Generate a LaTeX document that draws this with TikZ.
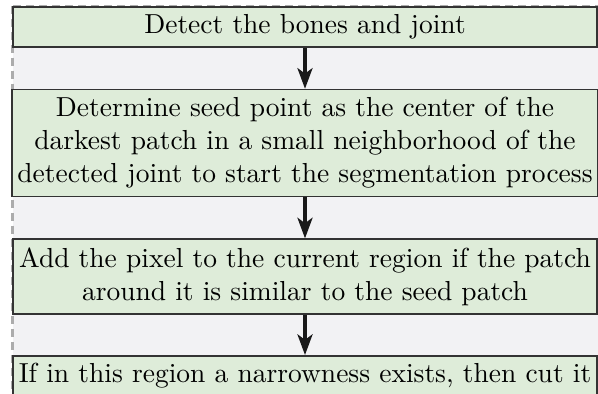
\documentclass[tikz,border=0pt]{standalone}
\usepackage{tikz}
\usetikzlibrary{arrows.meta, positioning}
\usepackage{xcolor}
\definecolor{cajaverde}{RGB}{222,236,217}
\definecolor{fondogris}{RGB}{242,242,244}

\begin{document}
\begin{tikzpicture}[x=0.3636pt, y=-0.3636pt,
	paso/.style={draw=black!80, line width=0.6pt, fill=cajaverde,
		minimum width=212.4pt, inner sep=2pt, align=center},
	flecha/.style={-{Stealth[length=7.5pt, width=5.5pt, inset=2pt]}, line width=1.1pt, black!90}]
			% Marco
			\useasboundingbox (0,0) rectangle (598,394);
			\clip (0,0) rectangle (598,394);
			\draw[gray!65, line width=0.8pt, dash pattern=on 2.9pt off 1.8pt,
				fill=fondogris] (12.5,6) rectangle (640,430);

			% Pasos
			\node[paso, minimum height=14.5pt] (huesos) at (305,27)
				{Detect the bones and joint};
			\node[paso, minimum height=38.9pt, below=14.9pt of huesos] (semilla)
				{Determine seed point as the center of the\\
				darkest patch in a small neighborhood of the\\
				detected joint to start the segmentation process};
			\node[paso, minimum height=27.3pt, below=14.9pt of semilla] (region)
				{Add the pixel to the current region if the patch\\
				around it is similar to the seed patch};
			\node[paso, minimum height=14.5pt, below=14.5pt of region] (corte)
				{If in this region a narrowness exists, then cut it};

			% Flechas
			\draw[flecha] (huesos) -- (semilla);
			\draw[flecha] (semilla) -- (region);
			\draw[flecha] (region) -- (corte);
		\end{tikzpicture}
\end{document}
